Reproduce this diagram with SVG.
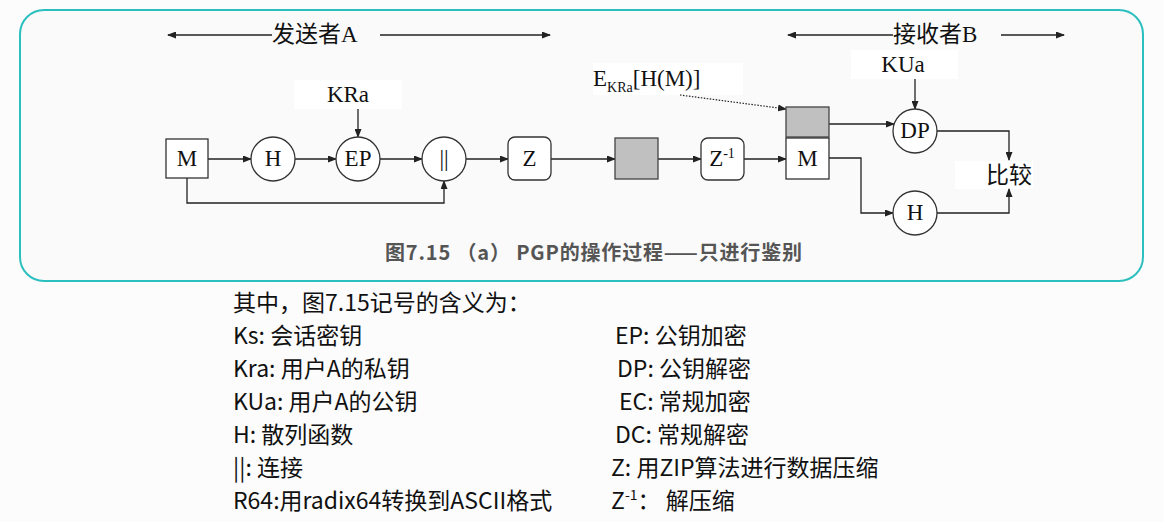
<svg xmlns="http://www.w3.org/2000/svg" width="1164" height="522" viewBox="0 0 1164 522">
<defs>
<marker id="ah" markerWidth="9" markerHeight="7" refX="8" refY="3.5" orient="auto-start-reverse" markerUnits="userSpaceOnUse">
<path d="M0,0 L9,3.5 L0,7 z" fill="#222"/>
</marker>
</defs>
<style>
.ln{stroke:#222;stroke-width:1.3;fill:none}
.dot{stroke:#222;stroke-width:1.2;fill:none;stroke-dasharray:1.5 1.5}
.nd{fill:#fff;stroke:#333;stroke-width:1.3}
.gr{fill:#c0c0c0;stroke:#444;stroke-width:1.3}
.lb{fill:#fff}
.t{font-family:"Liberation Serif","Noto Sans CJK SC",serif;font-size:23px;fill:#111}
.tc{font-family:"Liberation Serif","Noto Sans CJK SC",serif;font-size:23px;fill:#111;text-anchor:middle}
.cap{font-family:"Noto Sans CJK SC","Noto Sans",sans-serif;font-size:20px;font-weight:bold;fill:#555}
.lg{font-family:"Noto Sans CJK SC","Noto Sans",sans-serif;font-size:23px;fill:#111}
</style>
<rect x="0" y="0" width="1164" height="522" fill="#fcfcfc"/>
<rect x="20" y="10" width="1123" height="271" rx="24" ry="24" fill="#fafafa" stroke="#2bbfbf" stroke-width="2"/>

<g id="labels-bg">
<rect class="lb" x="294" y="80" width="108" height="29"/>
<rect class="lb" x="851" y="50" width="107" height="29"/>
<rect class="lb" x="593" y="63" width="150" height="32"/>
<rect class="lb" x="955" y="161" width="78" height="28"/>
</g>

<g id="connectors">
<line class="ln" x1="168" y1="35" x2="272" y2="35" marker-start="url(#ah)"/>
<line class="ln" x1="380" y1="35" x2="550" y2="35" marker-end="url(#ah)"/>
<line class="ln" x1="788" y1="35" x2="893" y2="35" marker-start="url(#ah)"/>
<line class="ln" x1="1001" y1="35" x2="1064" y2="35" marker-end="url(#ah)"/>
<line class="ln" x1="358" y1="109" x2="358" y2="137" marker-end="url(#ah)"/>
<line class="ln" x1="208" y1="159" x2="251" y2="159" marker-end="url(#ah)"/>
<line class="ln" x1="295" y1="159" x2="336" y2="159" marker-end="url(#ah)"/>
<line class="ln" x1="380" y1="159" x2="422" y2="159" marker-end="url(#ah)"/>
<line class="ln" x1="466" y1="159" x2="508" y2="159" marker-end="url(#ah)"/>
<line class="ln" x1="551" y1="159" x2="615" y2="159" marker-end="url(#ah)"/>
<line class="ln" x1="658" y1="159" x2="701" y2="159" marker-end="url(#ah)"/>
<line class="ln" x1="744" y1="159" x2="786" y2="159" marker-end="url(#ah)"/>
<polyline class="ln" points="187,178 187,203 444,203 444,181" marker-end="url(#ah)"/>
<line class="dot" x1="680" y1="95" x2="786" y2="109" marker-end="url(#ah)"/>
<line class="ln" x1="829" y1="124" x2="894" y2="124" marker-end="url(#ah)"/>
<line class="ln" x1="915" y1="79" x2="915" y2="109" marker-end="url(#ah)"/>
<polyline class="ln" points="937,131 1009,131 1009,160" marker-end="url(#ah)"/>
<polyline class="ln" points="829,158 861,158 861,213 893,213" marker-end="url(#ah)"/>
<polyline class="ln" points="937,213 1009,213 1009,189" marker-end="url(#ah)"/>
</g>

<g id="sender-title"><text class="t" x="272" y="42">发送者A</text></g>
<g id="receiver-title"><text class="t" x="893" y="42">接收者B</text></g>
<g id="kra"><text class="tc" x="348" y="102">KRa</text></g>
<g id="kua"><text class="tc" x="903" y="72">KUa</text></g>
<g id="ekra"><text class="t" x="593" y="86">E<tspan font-size="14" dy="6">KRa</tspan><tspan dy="-6">[H(M)]</tspan></text></g>

<g id="m-send"><rect class="nd" x="166" y="139" width="42" height="39"/><text class="tc" x="187" y="166" font-size="22">M</text></g>
<g id="h-send"><circle class="nd" cx="273" cy="159" r="22"/><text class="tc" x="273" y="166">H</text></g>
<g id="ep"><circle class="nd" cx="358" cy="159" r="22"/><text class="tc" x="358" y="166">EP</text></g>
<g id="concat"><circle class="nd" cx="444" cy="159" r="22"/><text class="tc" x="444" y="166">||</text></g>
<g id="z"><rect class="nd" x="508" y="137" width="43" height="43" rx="7"/><text class="tc" x="529.5" y="166">Z</text></g>
<g id="gray-mid"><rect class="gr" x="615" y="138" width="43" height="41"/></g>
<g id="zinv"><rect class="nd" x="701" y="138" width="43" height="42" rx="7"/><text class="tc" x="722" y="166">Z<tspan font-size="14" dy="-8">-1</tspan></text></g>
<g id="gray-recv"><rect class="gr" x="786" y="107" width="43" height="30"/></g>
<g id="m-recv"><rect class="nd" x="786" y="138" width="43" height="41"/><text class="tc" x="807.5" y="166" font-size="22">M</text></g>
<g id="dp"><circle class="nd" cx="915" cy="131" r="22"/><text class="tc" x="915" y="138">DP</text></g>
<g id="h-recv"><circle class="nd" cx="915" cy="213" r="22"/><text class="tc" x="915" y="220">H</text></g>
<g id="compare"><text class="tc" x="1009" y="183">比较</text></g>

<g id="caption"><text class="cap" x="385" y="260" textLength="417" lengthAdjust="spacing">图7.15 （a） PGP的操作过程——只进行鉴别</text></g>

<g id="legend">
<text class="lg" x="233" y="311">其中，图7.15记号的含义为：</text>
<text class="lg" x="233" y="344">Ks: 会话密钥</text>
<text class="lg" x="233" y="377">Kra: 用户A的私钥</text>
<text class="lg" x="233" y="410">KUa: 用户A的公钥</text>
<text class="lg" x="233" y="443">H: 散列函数</text>
<text class="lg" x="233" y="476">||: 连接</text>
<text class="lg" x="233" y="509">R64:用radix64转换到ASCII格式</text>
<text class="lg" x="615" y="344">EP: 公钥加密</text>
<text class="lg" x="617" y="377">DP: 公钥解密</text>
<text class="lg" x="619" y="410">EC: 常规加密</text>
<text class="lg" x="615" y="443">DC: 常规解密</text>
<text class="lg" x="611" y="476">Z: 用ZIP算法进行数据压缩</text>
<text class="lg" x="611" y="509">Z<tspan font-size="14" dy="-9">-1</tspan><tspan dy="9">：  解压缩</tspan></text>
</g>
</svg>
